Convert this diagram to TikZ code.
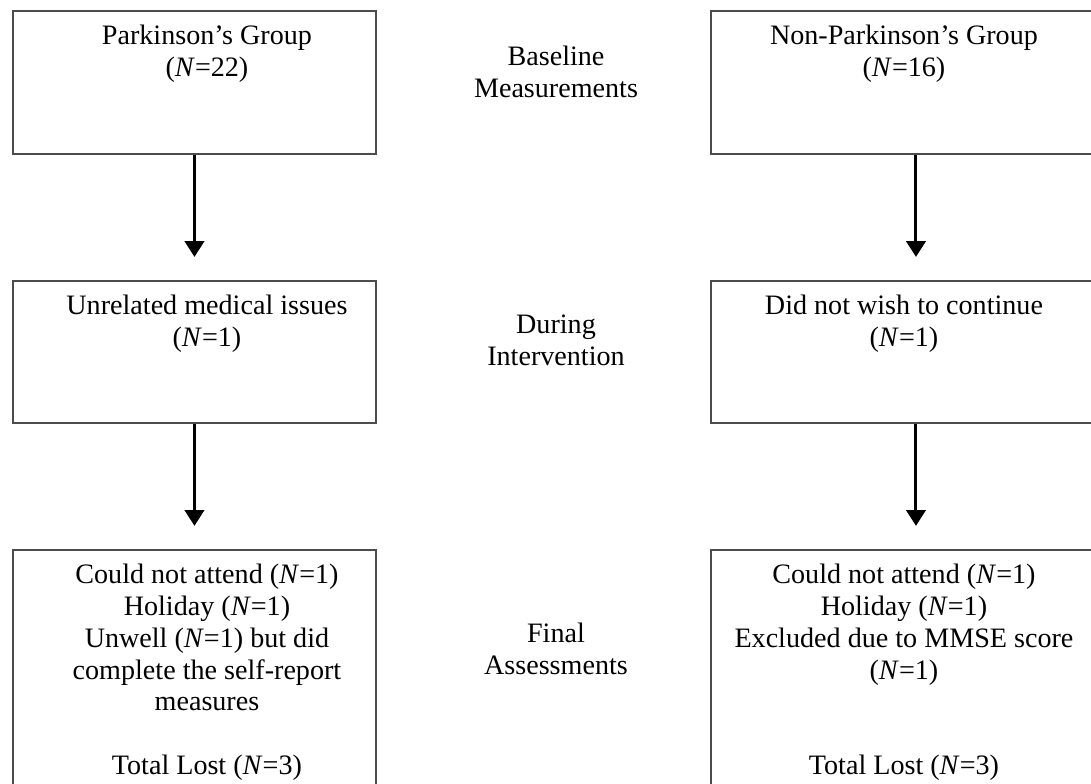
\documentclass[tikz,border=0pt]{standalone}
\usepackage{fontspec}
\setmainfont{Liberation Serif}
\usetikzlibrary{positioning,arrows.meta}

\begin{document}
\begin{tikzpicture}[node distance=2.5cm,
	boxb/.style={
	  draw=black!70,
	  line width=1.1pt,
	  minimum width=7.26cm,
	  minimum height=2.86cm,
	  inner sep=0pt
	},
	textb/.style={
	  font=\fontsize{16}{18.1}\selectfont,
	  align=center,
	  anchor=north,
	  inner sep=0pt
	},
	stageb/.style={
	  textb,
	  anchor=center
	},
	flow/.style={
	  line width=1.7pt,
	  -{Triangle[width=11pt,length=9pt]},
	  shorten >=0.46cm
	}]

	\useasboundingbox (0,0) rectangle (21.82,-15.68);
	\clip (0,0) rectangle (21.82,-15.68);

	% left column
	\node[boxb,anchor=north west] (PDbase) at (0.24,-0.2) {};
	\node[boxb,below=of PDbase,minimum height=2.84cm] (PDmid) {};
	\node[boxb,below=of PDmid,minimum height=5.5cm] (PDfinal) {};

	% right column
	\node[boxb,anchor=north west,minimum width=8.2cm] (NPbase) at (14.2,-0.2) {};
	\node[boxb,below=of NPbase,minimum width=8.2cm,minimum height=2.84cm] (NPmid) {};
	\node[boxb,below=of NPmid,minimum width=8.2cm,minimum height=5.5cm] (NPfinal) {};

	% box texts
	\node[textb] (PDbaseT) at ([xshift=0.25cm,yshift=-0.3cm]PDbase.north)
	  {Parkinson’s Group\\(\textit{N}=22)};
	\node[textb] (PDmidT) at ([xshift=0.25cm,yshift=-0.3cm]PDmid.north)
	  {Unrelated medical issues\\(\textit{N}=1)};
	\node[textb] (PDfinalT) at ([xshift=0.25cm,yshift=-0.3cm]PDfinal.north)
	  {Could not attend (\textit{N}=1)\\Holiday (\textit{N}=1)\\Unwell (\textit{N}=1) but did\\complete the self-report\\measures\\[18.1pt]Total Lost (\textit{N}=3)};

	\node[textb] (NPbaseT) at ([xshift=-0.24cm,yshift=-0.3cm]NPbase.north)
	  {Non-Parkinson’s Group\\(\textit{N}=16)};
	\node[textb] (NPmidT) at ([xshift=-0.24cm,yshift=-0.3cm]NPmid.north)
	  {Did not wish to continue\\(\textit{N}=1)};
	\node[textb] (NPfinalT) at ([xshift=-0.24cm,yshift=-0.3cm]NPfinal.north)
	  {Could not attend (\textit{N}=1)\\Holiday (\textit{N}=1)\\Excluded due to MMSE score\\(\textit{N}=1)\\[36.2pt]Total Lost (\textit{N}=3)};

	% stage labels
	\node[stageb] (Baseline) at (11.12,-1.44) {Baseline\\Measurements};
	\node[stageb] (During) at (11.12,-6.8) {During\\Intervention};
	\node[stageb] (Final) at (11.12,-12.97) {Final\\Assessments};

	% arrows
	\draw[flow] (PDbase.south) -- (PDmid.north);
	\draw[flow] (PDmid.south) -- (PDfinal.north);
	\draw[flow] (NPbase.south) -- (NPmid.north);
	\draw[flow] (NPmid.south) -- (NPfinal.north);
\end{tikzpicture}
\end{document}
